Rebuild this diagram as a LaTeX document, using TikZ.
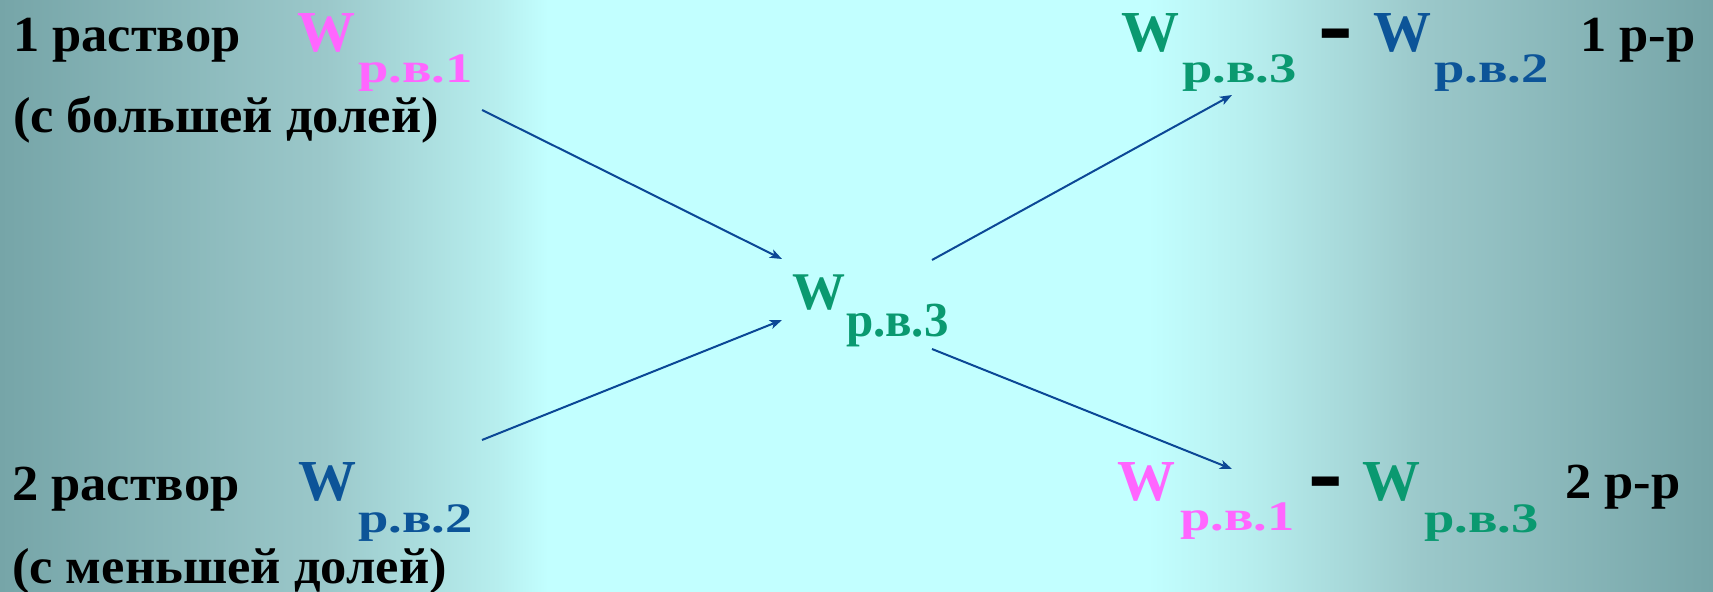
\documentclass[tikz,border=0pt]{standalone}
\usepackage{fontspec}
\newfontfamily\tnr{LiberationSerif}[Extension=.ttf, UprightFont=*-Regular, BoldFont=*-Bold]
\newfontfamily\tnrtext{LiberationSerif}[Extension=.ttf, UprightFont=*-Regular, BoldFont=*-Bold, FakeStretch=1.04]
\newfontfamily\tnrsub{LiberationSerif}[Extension=.ttf, UprightFont=*-Regular, BoldFont=*-Bold, FakeStretch=1.3]
\usetikzlibrary{arrows.meta}
\definecolor{wpink}{RGB}{255,102,255}
\definecolor{wgreen}{RGB}{10,153,112}
\definecolor{wblue}{RGB}{12,84,152}
\definecolor{arrowblue}{RGB}{12,72,150}
\definecolor{bgdark}{RGB}{118,165,168}
\definecolor{bgmid}{RGB}{155,200,202}
\definecolor{bgmidb}{RGB}{183,238,238}
\definecolor{bglight}{RGB}{194,255,255}
\pgfdeclarehorizontalshading{bgshade}{100bp}{color(0bp)=(bgdark); color(25bp)=(bgdark); color(34.5bp)=(bgmid); color(39.5bp)=(bgmidb); color(41bp)=(bglight); color(58.5bp)=(bglight); color(61.5bp)=(bgmidb); color(66.5bp)=(bgmid); color(75bp)=(bgdark); color(100bp)=(bgdark)}
\tikzset{
  lbl/.style={anchor=base west, inner sep=0pt, outer sep=0pt, text=black, text height=0.7em, text depth=0.22em, font=\tnrtext\bfseries\fontsize{50.5bp}{60bp}\selectfont},
  wbig/.style={anchor=base west, inner sep=0pt, outer sep=0pt, text height=0.7em, text depth=0pt, font=\tnr\bfseries\fontsize{58bp}{70bp}\selectfont},
  wsub/.style={anchor=base west, inner sep=0pt, outer sep=0pt, text height=0.7em, text depth=0.22em, font=\tnrsub\bfseries\fontsize{42bp}{50bp}\selectfont},
  wmid/.style={anchor=base west, inner sep=0pt, outer sep=0pt, text height=0.7em, text depth=0pt, font=\tnr\bfseries\fontsize{53bp}{64bp}\selectfont},
  wmidsub/.style={anchor=base west, inner sep=0pt, outer sep=0pt, text height=0.7em, text depth=0.22em, font=\tnr\bfseries\fontsize{49bp}{58bp}\selectfont},
  dashsym/.style={anchor=base, inner sep=0pt, outer sep=0pt, text=black, text height=0.3em, text depth=0pt, xscale=1.7, yscale=1.8, font=\tnr\bfseries\fontsize{61bp}{70bp}\selectfont},
  conn/.style={draw=arrowblue, line width=2bp, -{Stealth[length=12bp,width=9bp,inset=3bp]}}
}
\begin{document}
\begin{tikzpicture}[x=1bp,y=-1bp]
\useasboundingbox (0,0) rectangle (1713,592);
\shade[shading=bgshade] (0,0) rectangle (1713,592);
% left top
\node[lbl] (r1) at (13,52) {1 раствор};
\node[wbig,text=wpink] (w1) at (297,52) {W};
\node[wsub,text=wpink] (s1) at (358,83) {р.в.1};
\node[lbl] (d1) at (13,133) {(с большей долей)};
% left bottom
\node[lbl] (r2) at (12,500) {2 раствор};
\node[wbig,text=wblue] (w2) at (298,500) {W};
\node[wsub,text=wblue] (s2) at (358,532) {р.в.2};
\node[lbl,text depth=0pt] (d2) at (12,583) {(с меньшей долей)};
% center
\node[wmid,text=wgreen] (w3) at (792,309) {W};
\node[wmidsub,text=wgreen] (s3) at (846,336) {р.в.3};
% right top
\node[wbig,text=wgreen] (tw3) at (1121,52) {W};
\node[wsub,text=wgreen] (ts3) at (1182,83) {р.в.3};
\node[dashsym,transform shape] (tm) at (1335.5,59.5) {-};
\node[wbig,text=wblue] (tw2) at (1373,52) {W};
\node[wsub,text=wblue] (ts2) at (1434,83) {р.в.2};
\node[lbl] (tr) at (1580,52) {1 р-р};
% right bottom
\node[wbig,text=wpink] (bw1) at (1117,500) {W};
\node[wsub,text=wpink] (bs1) at (1180,530) {р.в.1};
\node[dashsym,transform shape] (bm) at (1326,507) {-};
\node[wbig,text=wgreen] (bw3) at (1362,500) {W};
\node[wsub,text=wgreen] (bs3) at (1424,532) {р.в.3};
\node[lbl] (br) at (1565,498) {2 р-р};
% connectors
\coordinate (a1s) at (482,110);
\coordinate (a1e) at (782,259);
\coordinate (a2s) at (482,440);
\coordinate (a2e) at (782,320);
\coordinate (a3s) at (932,260);
\coordinate (a3e) at (1232,95);
\coordinate (a4s) at (932,349);
\coordinate (a4e) at (1232,469);
\draw[conn] (a1s) -- (a1e);
\draw[conn] (a2s) -- (a2e);
\draw[conn] (a3s) -- (a3e);
\draw[conn] (a4s) -- (a4e);
\end{tikzpicture}
\end{document}
